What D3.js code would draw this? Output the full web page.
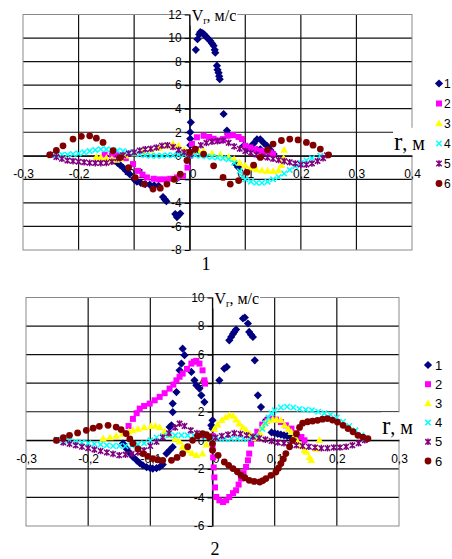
<!DOCTYPE html>
<html>
<head>
<meta charset="utf-8">
<script src="https://cdn.jsdelivr.net/npm/d3@7"></script>
<style>
  body { margin: 0; background: #fff; }
  svg { display: block; }
  .tick text { font-family: Arial, "Liberation Sans", sans-serif; font-size: 12px; fill: #000; }
</style>
</head>
<body>
<svg id="chart" width="452" height="559"></svg>
<script>
// ---- data: chart 1 (r in m, Vr in m/s) ----
const c1_s1 = [[-0.13,-0.6],[-0.125,-0.8],[-0.12,-1.0],[-0.114,-1.3],[-0.108,-1.56],[-0.1,-2.0],[-0.095,-2.2],[-0.088,-2.3],[-0.08,-2.4],[-0.072,-2.45],[-0.064,-2.5],[-0.056,-2.55],
  [-0.048,-3.5],[-0.045,-3.7],[-0.042,-3.85],[-0.026,-4.95],[-0.023,-5.2],[-0.02,-5.05],[-0.017,-4.9],
  [0.0,0.1],[0.001,0.9],[0.001,1.45],[0.001,2.0],[0.002,2.84],
  [0.011,9.0],[0.014,9.9],[0.017,10.3],[0.019,10.5],[0.022,10.45],[0.025,10.35],[0.028,10.2],[0.031,10.05],[0.034,9.9],[0.037,9.75],[0.04,9.55],[0.043,9.35],[0.045,9.0],[0.046,8.75],
  [0.049,7.65],[0.05,7.3],[0.052,7.05],[0.053,6.75],[0.054,6.5],[0.061,3.55],[0.067,2.15],[0.069,1.85],
  [0.083,-0.7],[0.087,-0.96],[0.097,0.85],[0.103,0.6],[0.109,0.75],[0.115,1.05],[0.121,1.4],[0.127,1.4],[0.133,1.1],[0.139,0.85],[0.145,0.5],[0.151,0.15],[0.121,0.5],[0.127,0.55]];
const c1_s2 = [[-0.153,0.1],[-0.14,0.1],[-0.13,0.05],[-0.115,-0.2],[-0.102,-0.7],[-0.093,-1.28],[-0.085,-1.6],[-0.077,-1.84],[-0.065,-1.95],[-0.055,-2.0],[-0.045,-2.0],[-0.035,-1.95],[-0.023,-1.84],[-0.012,-1.7],[-0.004,-1.0],
  [0.0,0.0],[0.004,1.0],[0.013,1.57],[0.025,1.7],[0.035,1.6],[0.043,1.45],[0.052,1.3],[0.06,1.42],[0.068,1.7],[0.078,1.75],[0.088,1.6],[0.094,1.42],[0.1,0.85],[0.109,0.71],[0.118,0.55],[0.127,0.43],[0.137,0.35],[0.145,0.28],[0.15,0.14]];
const c1_s3 = [[-0.168,-0.1],[-0.16,-0.15],[-0.15,-0.2],[-0.14,-0.3],[-0.132,-0.35],[-0.125,-0.25],[-0.115,0.0],[-0.1,0.2],[-0.085,0.35],[-0.07,0.5],[-0.055,0.65],[-0.041,0.85],[-0.03,1.0],[-0.02,0.85],[-0.01,0.5],[-0.005,0.3],
  [0.005,0.35],[0.015,0.45],[0.025,0.4],[0.04,0.2],[0.055,0.1],[0.07,-0.1],[0.08,-0.3],[0.09,-0.6],[0.1,-0.85],[0.11,-1.0],[0.12,-1.15],[0.13,-1.25],[0.14,-1.28],[0.15,-1.3],[0.16,-1.25],[0.165,-0.8],[0.169,-0.2],[0.17,0.5]];
const c1_s4 = [[-0.25,0.05],[-0.24,0.08],[-0.23,0.1],[-0.22,0.1],[-0.21,0.15],[-0.2,0.2],[-0.19,0.3],[-0.18,0.4],[-0.17,0.5],[-0.16,0.55],[-0.15,0.55],[-0.14,0.5],[-0.13,0.45],[-0.12,0.4],[-0.11,0.3],[-0.1,0.2],[-0.09,0.1],[-0.08,0.05],[-0.07,0.0],[-0.06,0.0],[-0.05,0.0],[-0.04,0.05],[-0.03,0.05],[-0.02,0.1],[-0.01,0.1],
  [0.0,0.0],[0.01,0.05],[0.02,0.0],[0.03,-0.05],[0.04,-0.1],[0.05,-0.15],[0.06,-0.2],[0.07,-0.3],[0.08,-0.6],[0.09,-1.3],[0.095,-1.8],[0.1,-2.0],[0.11,-2.2],[0.12,-2.3],[0.13,-2.3],[0.14,-2.2],[0.15,-2.0],[0.16,-1.8],[0.17,-1.5],[0.18,-1.2],[0.19,-0.9],[0.2,-0.6],[0.21,-0.4],[0.22,-0.2],[0.235,0.0]];
const c1_s5 = [[-0.25,0.1],[-0.24,-0.1],[-0.23,-0.25],[-0.22,-0.4],[-0.21,-0.45],[-0.2,-0.5],[-0.19,-0.55],[-0.18,-0.6],[-0.17,-0.62],[-0.16,-0.62],[-0.15,-0.6],[-0.14,-0.5],[-0.13,-0.2],[-0.12,0.05],[-0.11,0.2],[-0.1,0.3],[-0.09,0.45],[-0.08,0.55],[-0.07,0.6],[-0.06,0.7],[-0.05,0.85],[-0.04,0.9],[-0.03,0.75],[-0.02,0.5],[-0.01,0.3],
  [0.0,0.1],[0.01,0.5],[0.02,0.9],[0.03,1.1],[0.04,1.2],[0.05,1.25],[0.06,1.3],[0.07,1.1],[0.08,0.8],[0.09,0.6],[0.1,0.4],[0.11,0.25],[0.12,0.1],[0.13,-0.05],[0.14,-0.15],[0.15,-0.25],[0.16,-0.35],[0.17,-0.45],[0.18,-0.55],[0.19,-0.65],[0.2,-0.75],[0.21,-0.75],[0.22,-0.65],[0.23,-0.45],[0.24,-0.2],[0.247,0.05]];
const c1_s6 = [[-0.252,0.08],[-0.24,0.45],[-0.228,0.85],[-0.21,1.42],[-0.195,1.65],[-0.18,1.7],[-0.168,1.5],[-0.156,1.14],[-0.138,0.43],[-0.125,-0.15],[-0.11,-1.0],[-0.098,-1.85],[-0.082,-2.4],[-0.066,-2.83],[-0.053,-2.75],[-0.041,-2.4],[-0.028,-2.0],[-0.017,-1.56],[-0.005,-0.4],
  [0.0,0.3],[0.01,0.57],[0.025,0.15],[0.043,-0.85],[0.06,-1.84],[0.073,-2.4],[0.088,-2.1],[0.103,-1.4],[0.115,-0.8],[0.127,-0.14],[0.14,0.5],[0.15,1.0],[0.165,1.3],[0.18,1.42],[0.195,1.35],[0.21,1.14],[0.222,0.9],[0.235,0.57],[0.25,0.08]];

// ---- data: chart 2 ----
const c2_s1 = [[-0.144,-0.23],[-0.138,-0.6],[-0.133,-0.9],[-0.128,-1.17],[-0.122,-1.4],[-0.117,-1.6],[-0.112,-1.75],[-0.106,-1.88],[-0.1,-1.95],[-0.096,-1.98],[-0.09,-1.95],[-0.085,-1.87],[-0.08,-1.7],
  [-0.074,-0.93],[-0.069,-0.7],[-0.064,-0.47],[-0.069,0.93],[-0.066,1.05],[-0.064,1.98],[-0.064,2.57],[-0.058,3.38],[-0.053,4.9],[-0.05,5.37],[-0.045,5.96],[-0.048,6.42],
  [-0.034,4.79],[-0.029,4.2],[-0.026,3.85],[-0.021,3.62],[-0.018,3.15],[-0.013,2.68],[-0.002,1.05],[0.0,0.82],[0.0,1.4],
  [0.011,4.2],[0.019,5.02],[0.023,5.14],[0.027,7.0],[0.03,7.24],[0.033,7.45],[0.035,7.59],[0.038,7.76],[0.049,8.53],[0.052,8.6],[0.057,8.18],[0.059,7.59],[0.062,7.4],[0.065,7.24],[0.068,5.6],[0.073,3.15],[0.078,2.33],[0.086,1.4],
  [0.095,0.55],[0.1,0.5],[0.105,0.45],[0.11,0.4],[0.115,0.35],[0.12,0.3],[0.125,0.25],[0.13,0.2],[0.135,0.15]];
const c2_s2 = [[-0.14,0.5],[-0.135,1.0],[-0.128,1.5],[-0.122,1.9],[-0.117,2.22],[-0.11,2.4],[-0.101,2.57],[-0.093,2.8],[-0.085,3.04],[-0.077,3.3],[-0.069,3.62],[-0.063,3.9],[-0.058,4.2],[-0.053,4.45],[-0.048,4.67],[-0.041,5.0],[-0.034,5.37],[-0.03,5.5],[-0.026,5.56],[-0.021,5.37],[-0.016,4.9],[-0.013,4.2],[-0.012,3.97],
  [0.0,0.3],[0.0,-0.5],[0.001,-1.2],[0.002,-1.9],[0.003,-2.6],[0.004,-3.3],[0.006,-3.97],[0.011,-4.2],[0.017,-4.32],[0.022,-4.2],[0.027,-3.97],[0.033,-3.7],[0.038,-3.5],[0.042,-3.1],[0.046,-2.68],[0.05,-2.3],[0.054,-1.87],[0.057,-1.4],[0.059,-0.93],[0.062,-0.23],
  [0.066,0.2],[0.072,0.6],[0.08,1.1],[0.088,1.4],[0.094,1.52],[0.102,1.45],[0.11,1.28],[0.118,1.05],[0.127,0.82],[0.135,0.5],[0.143,0.23],[0.148,0.0]];
const c2_s3 = [[-0.176,0.12],[-0.165,0.2],[-0.155,0.3],[-0.145,0.45],[-0.135,0.6],[-0.128,0.7],[-0.12,0.8],[-0.11,0.9],[-0.099,0.98],[-0.092,1.0],[-0.085,0.9],[-0.077,0.6],[-0.069,0.35],[-0.06,0.1],[-0.053,-0.1],[-0.048,-0.47],[-0.04,-0.7],[-0.033,-0.9],[-0.026,-1.05],[-0.016,-0.93],[-0.01,-0.3],[-0.005,0.3],
  [0.003,0.8],[0.008,1.1],[0.015,1.4],[0.021,1.6],[0.027,1.75],[0.033,1.7],[0.038,1.45],[0.043,1.17],[0.049,0.9],[0.054,0.7],[0.06,0.45],[0.065,0.23],[0.07,0.15],[0.076,0.5],[0.08,0.9],[0.085,1.2],[0.09,1.4],[0.097,1.45],[0.103,1.45],[0.11,1.4],[0.116,1.05],[0.122,0.8],[0.127,0.56],[0.132,0.3],[0.137,-0.1],[0.143,-0.4],[0.148,-0.7],[0.151,-0.82],[0.156,-1.2],[0.159,-1.4],[0.166,-0.6],[0.172,0.0]];
const c2_s4 = [[-0.25,0.05],[-0.24,0.0],[-0.23,-0.05],[-0.22,-0.1],[-0.21,-0.15],[-0.2,-0.2],[-0.19,-0.25],[-0.18,-0.3],[-0.17,-0.35],[-0.16,-0.4],[-0.15,-0.4],[-0.14,-0.4],[-0.13,-0.35],[-0.12,-0.3],[-0.11,-0.2],[-0.1,0.0],[-0.09,0.2],[-0.08,0.3],[-0.07,0.35],[-0.06,0.35],[-0.05,0.35],[-0.04,0.35],[-0.03,0.35],[-0.02,0.3],[-0.01,0.25],
  [0.0,0.1],[0.01,0.1],[0.02,0.1],[0.03,0.1],[0.04,0.1],[0.05,0.1],[0.06,0.15],[0.07,0.3],[0.08,0.8],[0.085,1.2],[0.09,1.6],[0.095,1.9],[0.1,2.1],[0.11,2.3],[0.12,2.35],[0.13,2.3],[0.14,2.2],[0.15,2.15],[0.16,2.1],[0.17,2.0],[0.18,1.9],[0.19,1.8],[0.2,1.6],[0.21,1.3],[0.22,1.0],[0.23,0.7],[0.24,0.35],[0.245,0.1]];
const c2_s5 = [[-0.251,0.0],[-0.24,-0.15],[-0.23,-0.25],[-0.22,-0.35],[-0.21,-0.45],[-0.2,-0.55],[-0.19,-0.65],[-0.18,-0.75],[-0.17,-0.85],[-0.16,-0.95],[-0.15,-1.05],[-0.14,-1.0],[-0.13,-0.95],[-0.12,-0.85],[-0.11,-0.7],[-0.1,-0.4],[-0.09,-0.1],[-0.08,0.2],[-0.07,0.5],[-0.06,0.9],[-0.053,1.17],[-0.045,1.0],[-0.035,0.7],[-0.025,0.5],[-0.015,0.35],[-0.005,0.25],
  [0.005,0.2],[0.015,0.3],[0.025,0.4],[0.035,0.5],[0.045,0.45],[0.055,0.35],[0.065,0.25],[0.075,0.15],[0.085,0.05],[0.095,-0.05],[0.105,-0.15],[0.115,-0.2],[0.125,-0.3],[0.135,-0.35],[0.145,-0.4],[0.155,-0.45],[0.165,-0.5],[0.175,-0.55],[0.185,-0.55],[0.195,-0.5],[0.205,-0.5],[0.215,-0.45],[0.225,-0.35],[0.235,-0.2],[0.245,0.0]];
const c2_s6 = [[-0.251,0.0],[-0.24,0.18],[-0.23,0.35],[-0.217,0.52],[-0.203,0.7],[-0.192,0.85],[-0.182,0.98],[-0.168,1.05],[-0.155,0.93],[-0.147,0.75],[-0.139,0.47],[-0.133,0.1],[-0.128,-0.23],[-0.12,-0.6],[-0.112,-0.93],[-0.104,-1.12],[-0.096,-1.28],[-0.088,-1.36],[-0.08,-1.4],[-0.066,-1.4],[-0.057,-1.2],[-0.048,-0.93],[-0.04,-0.45],[-0.032,0.0],[-0.024,0.3],[-0.016,0.47],[-0.01,0.4],[-0.005,0.23],
  [0.0,-0.23],[0.0,-0.7],[0.009,-1.05],[0.019,-1.52],[0.026,-1.75],[0.033,-1.98],[0.04,-2.2],[0.046,-2.45],[0.052,-2.62],[0.059,-2.8],[0.067,-2.88],[0.076,-2.92],[0.081,-2.82],[0.086,-2.68],[0.094,-2.45],[0.102,-2.22],[0.106,-1.95],[0.11,-1.63],[0.114,-1.3],[0.118,-0.93],[0.124,-0.45],[0.129,0.0],[0.135,0.45],[0.14,0.9],[0.145,1.2],
  [0.153,1.3],[0.161,1.35],[0.169,1.4],[0.177,1.48],[0.185,1.52],[0.193,1.42],[0.201,1.28],[0.21,1.05],[0.218,0.82],[0.226,0.6],[0.234,0.35],[0.242,0.22],[0.25,0.12]];

const seriesNames = ["1", "2", "3", "4", "5", "6"];
const seriesColors = ["#000080", "#ff00ff", "#ffff00", "#00ffff", "#800080", "#800000"];
const seriesMarkers = ["diamond", "square", "triangle", "cross", "star", "circle"];

const xTicks1 = [-0.3, -0.2, -0.1, 0, 0.1, 0.2, 0.3, 0.4];
const yTicks1 = [-8, -6, -4, -2, 0, 2, 4, 6, 8, 10, 12];
const xTicks2 = [-0.3, -0.2, -0.1, 0, 0.1, 0.2, 0.3];
const yTicks2 = [-6, -4, -2, 0, 2, 4, 6, 8, 10];

const svg = d3.select("#chart");
const serif = '"Times New Roman", "Liberation Serif", serif';

// marker paths centred on 0,0
function markerPath(type) {
    switch (type) {
        case "diamond": return "M0,-4.1L4.1,0L0,4.1L-4.1,0Z";
        case "square": return "M-3,-3H3V3H-3Z";
        case "triangle": return "M0,-4L3.9,2.8H-3.9Z";
        case "cross": return "M-2.7,-2.7L2.7,2.7M-2.7,2.7L2.7,-2.7";
        case "star": return "M-2.7,-2.7L2.7,2.7M-2.7,2.7L2.7,-2.7M0,-3.3V3.3";
        default: return null;
    }
}

function drawMarkers(g, pts, i, x, y) {
    const type = seriesMarkers[i], col = seriesColors[i];
    if (type === "circle") {
        g.selectAll(null).data(pts).join("circle")
            .attr("cx", d => x(d[0])).attr("cy", d => y(d[1]))
            .attr("r", 3.4).attr("fill", col);
    } else {
        const stroked = type === "cross" || type === "star";
        g.selectAll(null).data(pts).join("path")
            .attr("transform", d => `translate(${x(d[0])},${y(d[1])})`)
            .attr("d", markerPath(type))
            .attr("fill", stroked ? "none" : col)
            .attr("stroke", stroked ? col : "none")
            .attr("stroke-width", 1.5);
    }
}

// title with a white box behind it
function label(parts, px, py) {
    const t = svg.append("text").attr("x", px).attr("y", py).attr("font-family", serif).attr("fill", "#000");
    parts.forEach(p => t.append("tspan").attr("font-size", p.size).attr("dy", p.dy || 0).text(p.text));
    const bb = t.node().getBBox();
    svg.insert("rect", () => t.node())
        .attr("x", bb.x - 1).attr("y", bb.y).attr("width", bb.width + 2).attr("height", bb.height)
        .attr("fill", "#fff");
    return t;
}

const fmtX = d => d === 0 ? "0" : d.toFixed(1).replace(".", ",");

function drawPanel(opt) {
    const g = svg.append("g");
    const x = d3.scaleLinear().domain(opt.xDomain).range([opt.left, opt.right]);
    const y = d3.scaleLinear().domain(opt.yDomain).range([opt.bottom, opt.top]);

    // grid
    g.selectAll(".vg").data(opt.xTicks.slice(1, -1)).join("line")
        .attr("x1", d => x(d)).attr("x2", d => x(d))
        .attr("y1", opt.top).attr("y2", opt.bottom)
        .attr("stroke", "#111").attr("stroke-width", 1.2);
    g.selectAll(".hg").data(opt.yTicks.slice(1, -1)).join("line")
        .attr("x1", opt.left).attr("x2", opt.right)
        .attr("y1", d => y(d)).attr("y2", d => y(d))
        .attr("stroke", "#111").attr("stroke-width", 1.2);
    g.append("rect")
        .attr("x", opt.left).attr("y", opt.top)
        .attr("width", opt.right - opt.left).attr("height", opt.bottom - opt.top)
        .attr("fill", "none").attr("stroke", "#8a8a8a").attr("stroke-width", 1);

    // y axis through r = 0
    const ya = g.append("g").attr("transform", `translate(${x(0)},0)`)
        .call(d3.axisLeft(y).tickValues(opt.yTicks).tickSize(5).tickSizeOuter(0).tickFormat(d => String(d)));
    ya.select(".domain").attr("stroke", "#000");
    ya.selectAll(".tick line").attr("stroke", "#000");

    // x axis through V = 0
    const xa = g.append("g").attr("transform", `translate(0,${y(0)})`)
        .call(d3.axisBottom(x).tickValues(opt.xTicks).tickSize(0).tickSizeOuter(0).tickFormat(fmtX));
    xa.select(".domain").attr("stroke", "#000");
    xa.selectAll(".tick text").attr("y", 14);
    xa.selectAll(".tick").filter(d => d === 0).select("text").attr("dx", 3);

    // series
    opt.series.forEach((pts, i) => drawMarkers(g.append("g"), pts, i, x, y));

    // legend
    const lg = svg.append("g");
    seriesNames.forEach((n, i) => {
        const ly = opt.legY + i * opt.legStep;
        drawMarkers(lg, [[0, 0]], i, () => opt.legX, () => ly);
        lg.append("text").attr("x", opt.legX + opt.legGap).attr("y", ly + 4.5)
            .attr("font-family", 'Arial, "Liberation Sans", sans-serif').attr("font-size", opt.legFont).text(n);
    });

    // axis titles
    label([{ text: "V", size: 16 }, { text: "r", size: 10, dy: 3 }, { text: ", м/с", size: 16, dy: -3 }],
        x(0) + 2, opt.top + 6);
    label([{ text: "r", size: 25 }, { text: ", м", size: 20 }], opt.rLabelX, y(0) - 6);

    // caption
    svg.append("text").attr("x", opt.capX).attr("y", opt.capY)
        .attr("font-family", serif).attr("font-size", 18).attr("text-anchor", "middle").text(opt.caption);
}

drawPanel({
    left: 23, right: 412, top: 14.5, bottom: 250,
    xDomain: [-0.3, 0.4], yDomain: [-8, 12], xTicks: xTicks1, yTicks: yTicks1,
    series: [c1_s1, c1_s2, c1_s3, c1_s4, c1_s5, c1_s6],
    legX: 439, legY: 83.5, legStep: 20, legGap: 5, legFont: 12,
    rLabelX: 394, capX: 206, capY: 270, caption: "1"
});

drawPanel({
    left: 26, right: 399, top: 297.5, bottom: 526,
    xDomain: [-0.3, 0.3], yDomain: [-6, 10], xTicks: xTicks2, yTicks: yTicks2,
    series: [c2_s1, c2_s2, c2_s3, c2_s4, c2_s5, c2_s6],
    legX: 428, legY: 365, legStep: 19.2, legGap: 7, legFont: 13,
    rLabelX: 382, capX: 215, capY: 555, caption: "2"
});
</script>
</body>
</html>
